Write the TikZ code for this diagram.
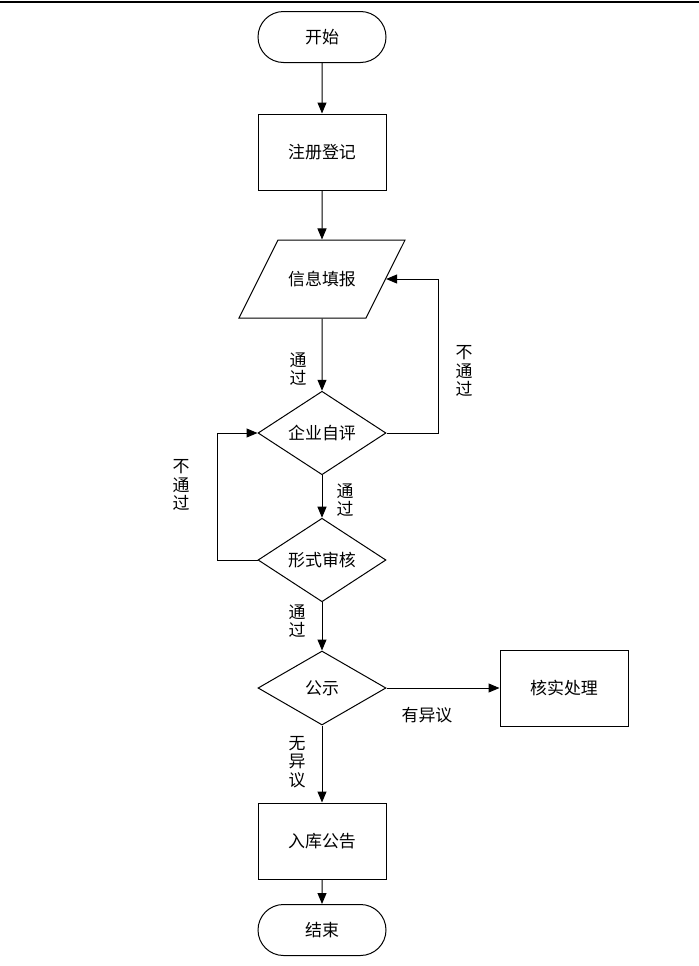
\documentclass[tikz,border=0pt]{standalone}
\usepackage{fontspec}
\newfontfamily\cjk{Noto Sans CJK SC}
\usetikzlibrary{arrows.meta, shapes.geometric, shapes.misc, positioning}

\begin{document}
\begin{tikzpicture}[x=1bp, y=-1bp]
    \tikzset{
  termnode/.style={rounded rectangle, draw, minimum width=128bp,
    minimum height=51bp, inner sep=0pt, font=\cjk\fontsize{17}{18.5}\selectfont,
    line width=1bp},
  procnode/.style={rectangle, draw, minimum width=128bp,
    minimum height=76bp, inner sep=0pt, font=\cjk\fontsize{17}{18.5}\selectfont,
    line width=1bp},
  ionode/.style={trapezium, draw, trapezium left angle=63.4,
    trapezium right angle=116.6, text width=68bp, align=center,
    text height=13bp, text depth=0bp, inner xsep=10bp, inner ysep=32.5bp,
    font=\cjk\fontsize{17}{18.5}\selectfont, line width=1bp},
  decnode/.style={diamond, draw, minimum width=128bp,
    minimum height=74bp, inner sep=0pt, font=\cjk\fontsize{17}{18.5}\selectfont,
    line width=1bp},
  flow/.style={-{Triangle[length=11bp, width=9bp]}, line width=1bp},
  lbl/.style={font=\cjk\fontsize{17}{18.5}\selectfont, align=center, inner sep=0pt}
}
% ============================================================
%  registration flow: fill in, self check, review, publish
% ============================================================
\useasboundingbox (0,0) rectangle (699,966);
\draw[line width=1.5bp] (0,2) -- (699,2);

% ── Main column ──────────────────────────────────────────────
\node[termnode] (st)   at (322, 37)  {开始};
\node[procnode] (reg)  at (322, 152) {注册登记};
\node[ionode]   (info) at (322, 279) {信息填报};
\node[decnode]  (zp)   at (322, 433) {企业自评};
\node[decnode]  (xs)   at (322, 560) {形式审核};
\node[decnode]  (gs)   at (322, 688) {公示};
\node[procnode] (rk)   at (322, 841) {入库公告};
\node[termnode] (ed)   at (322, 930) {结束};

% ── Side box ─────────────────────────────────────────────────
\node[procnode] (hs)   at (564, 688) {核实处理};

% ── Edges (main column) ──────────────────────────────────────
\foreach \a/\b in {st/reg, reg/info, info/zp, zp/xs, xs/gs, gs/rk, rk/ed}{
  \draw[flow] (\a) -- (\b);
}
\draw[flow] (gs) -- (hs);

% ── Loops back ───────────────────────────────────────────────
\draw[flow] (zp.east) -- ++(52,0) |- (info.east);
\draw[flow] (xs.west) -- ++(-40,0) |- (zp.west);

% ── Edge labels ──────────────────────────────────────────────
\node[lbl] (l1) at (298, 369) {通\\过};
\node[lbl] (l2) at (464, 371) {不\\通\\过};
\node[lbl] (l3) at (181, 485) {不\\通\\过};
\node[lbl] (l4) at (345, 500) {通\\过};
\node[lbl] (l5) at (297, 621) {通\\过};
\node[lbl] (l6) at (427, 715) {有异议};
\node[lbl] (l7) at (297, 762) {无\\异\\议};

  \end{tikzpicture}
\end{document}
